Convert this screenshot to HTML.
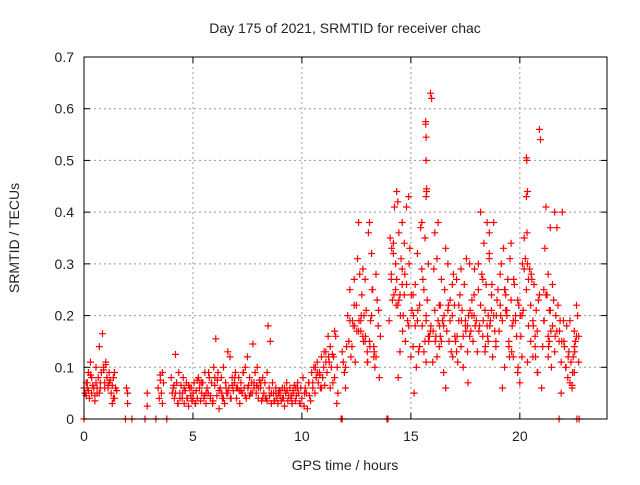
<!DOCTYPE html>
<html><head><meta charset="utf-8"><style>
body{margin:0;background:#fff}
svg text{font-family:"Liberation Sans",sans-serif;font-size:14px;fill:#222}
</style></head><body>
<svg id="c" width="640" height="480" xmlns="http://www.w3.org/2000/svg">
<text x="345" y="33" text-anchor="middle">Day 175 of 2021, SRMTID for receiver chac</text>
<text x="345" y="470" text-anchor="middle">GPS time / hours</text>
<text transform="translate(19,238) rotate(-90)" text-anchor="middle">SRMTID / TECUs</text>
<g id="grid"></g>
<g id="axes"></g>
<g id="pts"></g>
<rect x="84" y="57" width="523" height="362" fill="none" stroke="#000"/>
</svg>
<script>
const xTicks=[0,5,10,15,20];
const yTicks=[0,0.1,0.2,0.3,0.4,0.5,0.6,0.7];
const yTickLabels=["0","0.1","0.2","0.3","0.4","0.5","0.6","0.7"];
const hours=[0,0.05,0.1,0.15,0.2,0.25,0.3,0.35,0.4,0.45,0.5,0.55,0.6,0.65,0.7,0.75,0.8,0.85,0.9,0.95,1.0,1.05,1.1,1.15,1.2,1.25,1.3,1.35,1.4,1.45,1.5,0.1,0.3,0.5,0.7,0.9,1.1,1.3,0.2,0.6,1.0,1.4,
1.95,2.0,2.0,2.9,2.9,3.4,3.45,3.5,3.55,3.6,3.65,3.5,3.6,
4.0,4.05,4.1,4.15,4.2,4.25,4.3,4.35,4.4,4.45,4.5,4.55,4.6,4.65,4.7,4.75,4.8,4.85,4.9,4.95,5.0,5.05,5.1,5.15,5.2,5.25,5.3,5.35,5.4,5.45,5.5,5.55,5.6,5.65,5.7,5.75,5.8,5.85,5.9,5.95,6.0,6.05,6.1,6.15,6.2,6.25,6.3,6.35,6.4,6.45,6.5,6.55,6.6,6.65,6.7,6.75,6.8,6.85,6.9,6.95,7.0,7.05,7.1,7.15,7.2,7.25,7.3,7.35,7.4,7.45,7.5,7.55,7.6,7.65,7.7,7.75,7.8,7.85,7.9,7.95,8.0,8.05,8.1,8.15,8.2,8.25,8.3,8.35,8.4,8.45,8.5,8.55,8.6,8.65,8.7,8.75,8.8,8.85,8.9,8.95,9.0,9.05,9.1,9.15,9.2,9.25,9.3,9.35,9.4,9.45,9.5,9.55,9.6,9.65,9.7,9.75,9.8,9.85,9.9,9.95,10.0,10.05,10.1,10.15,10.2,10.25,10.3,10.35,10.4,
4.2,4.6,5.0,5.4,5.8,6.2,6.6,7.0,7.4,7.8,8.2,8.6,9.0,9.4,9.8,10.2,4.4,4.8,5.2,5.6,6.0,6.4,6.8,7.2,7.6,8.0,8.4,8.8,9.2,9.6,10.0,
4.12,4.32,4.52,4.72,4.92,5.12,5.32,5.52,5.72,5.92,6.12,6.32,6.52,6.72,6.92,7.12,7.32,7.52,7.72,7.92,8.12,8.32,8.52,8.72,8.92,9.12,9.32,9.52,9.72,9.92,10.12,10.32,
0.15,0.35,0.55,0.75,0.95,1.15,1.35,
10.45,10.5,10.55,10.6,10.65,10.7,10.75,10.8,10.85,10.9,10.95,11.0,11.05,11.1,11.15,11.2,11.25,11.3,11.35,11.4,11.45,11.5,11.55,11.6,11.65,10.5,10.7,10.9,11.1,11.3,11.5,
10.62,10.82,11.02,11.22,11.42,11.62,
11.85,11.9,11.95,12.0,12.05,12.1,12.15,12.2,12.25,12.3,12.35,12.4,12.45,12.5,12.55,12.6,12.65,12.7,12.75,12.8,12.85,12.9,12.95,13.0,13.05,13.1,13.15,13.2,13.25,13.3,13.35,13.4,13.45,13.5,13.55,13.6,12.0,12.2,12.4,12.6,12.8,13.0,13.2,13.4,12.7,12.9,13.1,13.3,
12.32,12.52,12.72,12.92,13.12,13.32,13.52,12.42,12.62,12.82,13.02,13.22,
14.0,14.05,14.1,14.15,14.2,14.25,14.3,14.35,14.4,14.45,14.5,14.55,14.6,14.65,14.7,14.75,14.8,14.85,14.9,14.95,14.1,14.3,14.5,14.7,14.9,14.2,14.4,14.6,14.8,14.35,14.45,14.6,
14.12,14.32,14.52,14.72,14.92,14.22,14.42,14.62,
15.0,15.05,15.1,15.15,15.2,15.25,15.3,15.35,15.4,15.45,15.5,15.55,15.6,15.65,15.7,15.75,15.8,15.85,15.9,15.95,15.68,15.68,15.7,15.7,15.72,15.72,15.7,15.65,15.7,15.1,15.3,15.5,15.7,15.9,15.2,15.4,15.6,15.8,
15.12,15.32,15.52,15.82,15.92,15.02,
16.0,16.05,16.1,16.15,16.2,16.25,16.3,16.35,16.4,16.45,16.5,16.55,16.6,16.65,16.7,16.75,16.8,16.85,16.9,16.95,16.1,16.3,16.5,16.7,16.9,16.2,16.4,16.6,16.8,16.35,16.25,
16.12,16.32,16.52,16.72,16.92,16.02,
17.0,17.05,17.1,17.15,17.2,17.25,17.3,17.35,17.4,17.45,17.5,17.55,17.6,17.65,17.7,17.75,17.8,17.85,17.9,17.95,17.1,17.3,17.5,17.7,17.9,17.2,17.4,17.6,17.8,
17.12,17.32,17.52,17.72,17.92,17.02,17.62,
18.0,18.05,18.1,18.15,18.2,18.25,18.3,18.35,18.4,18.45,18.5,18.55,18.6,18.65,18.7,18.75,18.8,18.85,18.9,18.95,18.1,18.3,18.5,18.7,18.9,18.2,18.4,18.6,18.8,18.6,18.62,18.55,
18.12,18.32,18.52,18.72,18.92,18.42,
19.0,19.05,19.1,19.15,19.2,19.25,19.3,19.35,19.4,19.45,19.5,19.55,19.6,19.65,19.7,19.75,19.8,19.85,19.9,19.95,19.1,19.3,19.5,19.7,19.9,19.2,19.4,19.6,19.8,19.35,
19.12,19.32,19.52,19.72,19.92,19.62,
20.0,20.05,20.1,20.15,20.2,20.25,20.3,20.35,20.4,20.45,20.5,20.55,20.6,20.65,20.7,20.75,20.8,20.85,20.9,20.95,20.3,20.32,20.35,20.3,20.33,20.35,20.4,20.1,20.5,20.7,20.9,20.2,20.6,20.8,
20.02,20.12,20.52,20.62,20.72,20.82,
21.0,21.05,21.1,21.15,21.2,21.25,21.3,21.35,21.4,21.45,21.5,21.55,21.6,21.65,21.7,21.75,21.8,21.85,21.9,21.95,21.1,21.3,21.5,21.7,21.9,21.2,21.4,21.6,21.3,21.32,21.35,
21.12,21.42,21.62,21.82,21.92,
22.0,22.05,22.1,22.15,22.2,22.25,22.3,22.35,22.4,22.45,22.5,22.55,22.6,22.65,22.7,22.1,22.3,22.5,22.7,22.2,22.4,22.6,22.5,
22.02,22.12,22.22,22.42,22.52,22.62,22.72,
0,1.9,2.2,2.8,3.3,3.8,11.8,13.9,21.8,11.85,13.95,21.85,21.9];
const srmtid=[0.06,0.05,0.045,0.07,0.055,0.04,0.11,0.05,0.065,0.06,0.035,0.07,0.05,0.08,0.14,0.06,0.09,0.165,0.1,0.07,0.105,0.08,0.06,0.09,0.075,0.05,0.065,0.08,0.04,0.06,0.055,0.07,0.085,0.045,0.05,0.095,0.065,0.03,0.09,0.06,0.11,0.09,
0.06,0.05,0.03,0.05,0.025,0.06,0.04,0.085,0.05,0.09,0.07,0.075,0.03,
0.08,0.05,0.06,0.04,0.125,0.07,0.03,0.09,0.05,0.065,0.04,0.08,0.03,0.055,0.07,0.04,0.025,0.06,0.045,0.035,0.05,0.07,0.03,0.055,0.04,0.08,0.06,0.035,0.05,0.07,0.04,0.09,0.03,0.06,0.05,0.08,0.04,0.07,0.03,0.1,0.065,0.155,0.045,0.09,0.02,0.06,0.08,0.04,0.1,0.03,0.07,0.05,0.13,0.06,0.12,0.04,0.08,0.055,0.07,0.09,0.04,0.06,0.08,0.03,0.07,0.05,0.09,0.06,0.1,0.04,0.12,0.065,0.08,0.05,0.07,0.145,0.06,0.09,0.05,0.1,0.04,0.075,0.06,0.035,0.08,0.05,0.07,0.04,0.09,0.18,0.06,0.15,0.03,0.07,0.05,0.035,0.06,0.04,0.03,0.055,0.045,0.035,0.06,0.04,0.025,0.05,0.07,0.035,0.045,0.06,0.04,0.03,0.05,0.065,0.035,0.045,0.07,0.05,0.03,0.06,0.04,0.08,0.025,0.06,0.05,0.02,0.07,
0.045,0.035,0.05,0.06,0.04,0.07,0.045,0.055,0.05,0.06,0.045,0.07,0.04,0.05,0.055,0.045,0.06,0.05,0.04,0.065,0.075,0.05,0.08,0.04,0.065,0.055,0.045,0.06,0.035,0.05,0.06,
0.055,0.04,0.065,0.03,0.05,0.04,0.06,0.03,0.07,0.045,0.09,0.035,0.075,0.05,0.06,0.04,0.08,0.055,0.09,0.06,0.05,0.065,0.07,0.04,0.045,0.035,0.05,0.04,0.055,0.045,0.06,0.03,
0.05,0.07,0.06,0.08,0.1,0.07,0.06,
0.07,0.04,0.09,0.06,0.1,0.05,0.08,0.11,0.07,0.09,0.06,0.12,0.08,0.1,0.065,0.13,0.09,0.16,0.11,0.14,0.1,0.125,0.12,0.17,0.16,0.03,0.05,0.07,0.09,0.06,0.11,
0.06,0.08,0.1,0.085,0.13,0.12,
0.07,0.1,0.13,0.11,0.09,0.06,0.14,0.2,0.15,0.25,0.12,0.14,0.18,0.27,0.11,0.22,0.31,0.38,0.28,0.19,0.24,0.16,0.2,0.15,0.21,0.13,0.36,0.38,0.19,0.32,0.25,0.14,0.1,0.12,0.23,0.18,0.08,0.16,0.1,0.19,0.22,0.17,0.29,0.11,0.2,0.28,0.17,0.27,
0.15,0.12,0.19,0.17,0.2,0.16,0.14,0.13,0.21,0.18,0.19,0.15,
0.11,0.25,0.19,0.35,0.27,0.23,0.32,0.41,0.3,0.44,0.22,0.36,0.24,0.31,0.38,0.2,0.34,0.15,0.26,0.19,0.18,0.33,0.28,0.25,0.13,0.24,0.43,0.34,0.42,0.29,0.41,0.27,
0.23,0.26,0.33,0.22,0.2,0.28,0.3,0.24,
0.08,0.17,0.12,0.21,0.14,0.05,0.18,0.1,0.19,0.13,0.22,0.37,0.29,0.27,0.25,0.35,0.19,0.23,0.3,0.16,0.63,0.62,0.575,0.57,0.545,0.5,0.445,0.44,0.43,0.15,0.2,0.24,0.32,0.38,0.11,0.17,0.26,0.14,
0.13,0.16,0.2,0.21,0.18,0.15,
0.18,0.24,0.11,0.29,0.21,0.16,0.31,0.38,0.14,0.22,0.27,0.19,0.09,0.25,0.06,0.17,0.21,0.15,0.23,0.13,0.2,0.28,0.36,0.22,0.18,0.3,0.26,0.12,0.15,0.33,0.19,
0.16,0.19,0.15,0.18,0.2,0.22,
0.12,0.17,0.22,0.15,0.27,0.11,0.19,0.24,0.14,0.21,0.16,0.26,0.18,0.31,0.13,0.2,0.3,0.17,0.23,0.15,0.2,0.18,0.13,0.29,0.19,0.16,0.24,0.22,0.1,
0.18,0.2,0.16,0.19,0.17,0.21,0.29,
0.16,0.07,0.19,0.13,0.25,0.18,0.22,0.28,0.16,0.34,0.21,0.26,0.38,0.15,0.31,0.19,0.24,0.12,0.2,0.17,0.14,0.23,0.3,0.27,0.18,0.21,0.15,0.4,0.13,0.32,0.38,0.36,
0.18,0.2,0.17,0.19,0.16,0.26,
0.2,0.14,0.25,0.17,0.22,0.3,0.19,0.33,0.1,0.24,0.21,0.27,0.15,0.31,0.23,0.18,0.12,0.26,0.2,0.16,0.09,0.22,0.28,0.25,0.14,0.19,0.23,0.06,0.2,0.34,
0.19,0.21,0.2,0.25,0.12,0.27,
0.1,0.13,0.07,0.16,0.12,0.21,0.35,0.31,0.25,0.3,0.18,0.29,0.22,0.27,0.19,0.26,0.14,0.21,0.17,0.23,0.56,0.54,0.505,0.5,0.44,0.43,0.36,0.11,0.27,0.2,0.15,0.16,0.24,0.29,
0.12,0.09,0.2,0.3,0.28,0.18,
0.12,0.09,0.06,0.14,0.19,0.33,0.41,0.24,0.28,0.15,0.21,0.1,0.18,0.23,0.13,0.2,0.17,0.22,0.15,0.19,0.05,0.4,0.25,0.16,0.26,0.37,0.11,0.24,0.37,0.4,0.12,
0.14,0.21,0.19,0.17,0.16,
0.17,0.15,0.19,0.14,0.1,0.18,0.08,0.13,0.07,0.11,0.06,0.12,0.09,0.15,0.22,0.2,0.16,0.1,0.19,0.14,0.11,0.08,0.065,
0.16,0.17,0.15,0.1,0.12,0.09,0.13,
0,0,0,0,0,0,0,0,0,0,0,0,0];
const X0=84,X1=607,Y0=419,Y1=57,XMAX=24,YMAX=0.7;
const sx=v=>X0+v/XMAX*(X1-X0), sy=v=>Y0-v/YMAX*(Y0-Y1);
const NS="http://www.w3.org/2000/svg";
const grid=document.getElementById('grid'),axes=document.getElementById('axes'),pts=document.getElementById('pts');
function mk(t,a,p){const e=document.createElementNS(NS,t);for(const k in a)e.setAttribute(k,a[k]);p.appendChild(e);return e;}
xTicks.forEach(v=>{const x=sx(v);
 if(v>0){const g=mk('line',{x1:x,x2:x,y1:Y1,y2:Y0,stroke:'#999','stroke-dasharray':'2,3'},grid);}
 mk('line',{x1:x,x2:x,y1:Y0,y2:Y0-6,stroke:'#000'},axes);mk('line',{x1:x,x2:x,y1:Y1,y2:Y1+6,stroke:'#000'},axes);
 const t=mk('text',{x:x,y:Y0+22,'text-anchor':'middle'},axes);t.textContent=v;
 
 });
yTicks.forEach((v,i)=>{const y=sy(v);
 if(v>0&&v<0.7){const g=mk('line',{x1:X0,x2:X1,y1:y,y2:y,stroke:'#999','stroke-dasharray':'2,3'},grid);}
 mk('line',{x1:X0,x2:X0+6,y1:y,y2:y,stroke:'#000'},axes);mk('line',{x1:X1,x2:X1-6,y1:y,y2:y,stroke:'#000'},axes);
 const t=mk('text',{x:X0-10,y:y+5,'text-anchor':'end'},axes);t.textContent=yTickLabels[i];
 
 });
let d='';
hours.forEach((h,i)=>{const x=sx(h),y=sy(srmtid[i]);d+=`M${(x-3.5).toFixed(1)} ${y.toFixed(1)}h7M${x.toFixed(1)} ${(y-3.5).toFixed(1)}v7`;});
const p=mk('path',{d:d,stroke:'#f00','stroke-width':1.2,fill:'none'},pts);


</script>
</body></html>
